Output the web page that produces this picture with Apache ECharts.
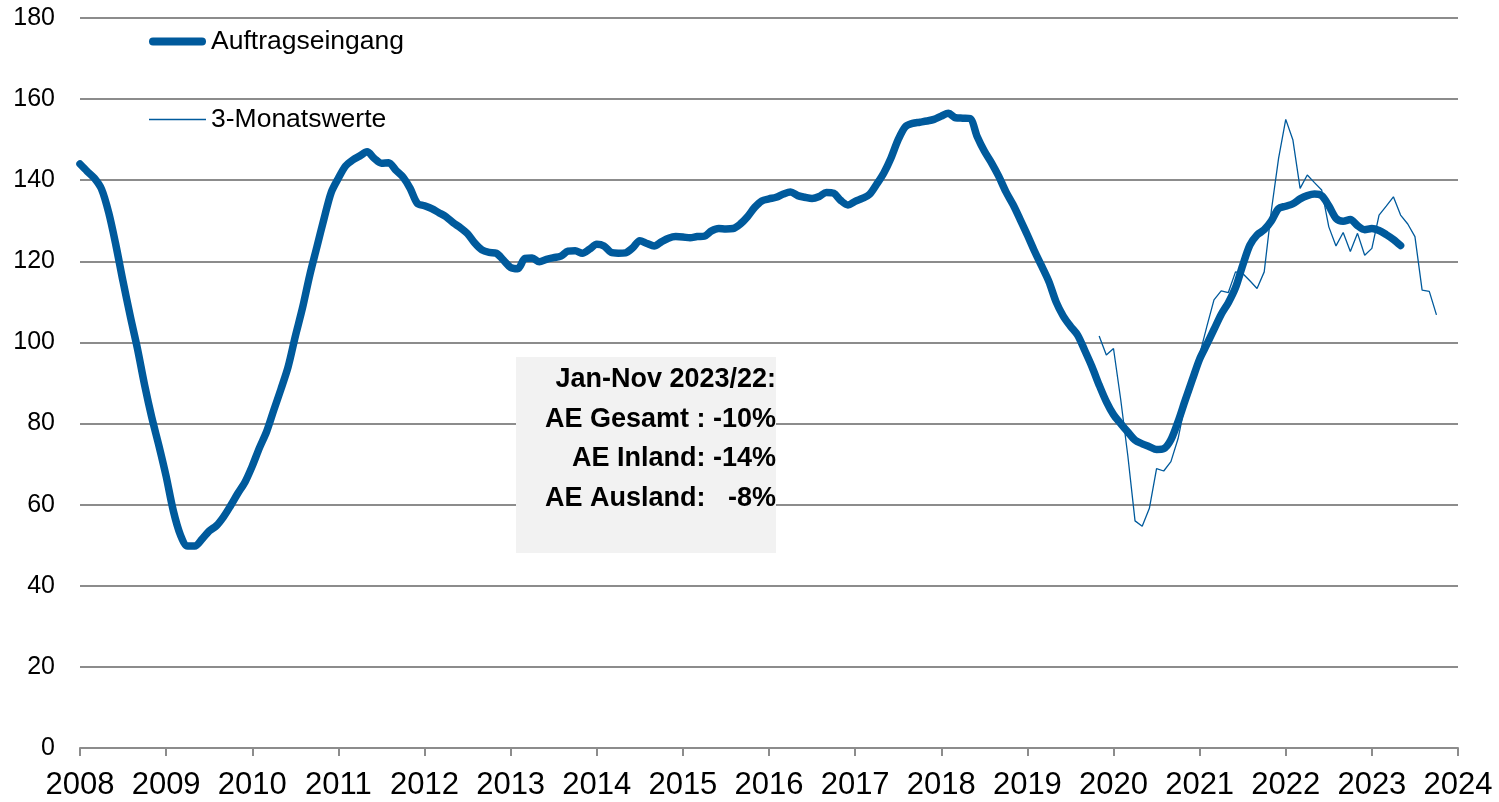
<!DOCTYPE html>
<html>
<head>
<meta charset="utf-8">
<title>Auftragseingang</title>
<script src="https://cdn.jsdelivr.net/npm/echarts@6/dist/echarts.min.js"></script>
<style>
  html, body { margin: 0; padding: 0; background: #fff; }
  #chart { width: 1499px; height: 802px; }
</style>
</head>
<body>
<div id="chart"></div>
<script>
// year ticks on the x axis
const years = [2008, 2009, 2010, 2011, 2012, 2013, 2014, 2015, 2016, 2017, 2018, 2019, 2020, 2021, 2022, 2023, 2024];

// Auftragseingang, monthly from Jan 2008 to May 2023
const auftragseingang = [
  144, 142.2, 140.5, 137.8, 132, 124, 115, 106.5, 98.5, 89.5, 81.5, 74.5,
  67, 58.5, 52.5, 49.8, 49.8, 51.5, 53.5, 54.8, 57, 59.8, 62.8, 65.6,
  69.5, 74, 78, 83.3, 88.5, 94, 101.5, 108.5, 116.5, 123.5, 130.5, 137,
  140.5, 143.5, 145, 146, 147, 145.4, 144.2, 144.3, 142.5, 140.8, 138, 134.3,
  133.7, 133, 132, 131, 129.5, 128.3, 126.8, 124.5, 122.8, 122.2, 122, 120.3,
  118.5, 118.2, 120.7, 120.8, 119.9, 120.5, 120.9, 121.3, 122.5, 122.6, 122, 123,
  124.2, 123.8, 122.2, 122, 122.1, 123.3, 125.1, 124.4, 123.8, 124.8, 125.7, 126.1,
  126, 125.8, 126.1, 126.2, 127.5, 128.1, 128, 128.1, 129.2, 131, 133.3, 134.9,
  135.4, 135.8, 136.6, 137.1, 136.2, 135.8, 135.5, 136, 137, 136.8, 135, 133.9,
  134.8, 135.5, 136.5, 139, 141.8, 145.5, 150, 153.2, 154, 154.3, 154.6, 155,
  155.8, 156.5, 155.4, 155.3, 155.2, 150.8, 147.2, 144.3, 141, 137.2, 134, 130.3,
  126.5, 122.5, 118.8, 115, 110, 106.5, 104, 101.8, 98, 94, 89.5, 85.4,
  82.2, 80, 77.9, 75.9, 75, 74.3, 73.6, 73.8, 76, 80.5, 85.8, 90.9,
  95.9, 99.5, 103.2, 106.9, 109.8, 113.5, 119, 124, 126.5, 127.8, 130, 133,
  133.6, 134.2, 135.4, 136.2, 136.6, 136.2, 133.7, 130.6, 129.9, 130.3, 128.8, 127.8,
  128.1, 127.6, 126.6, 125.4, 123.9
];

// 3-Monatswerte, monthly from Nov 2019 to Oct 2023
const dreiMonatsStart = "2019-11";
const dreiMonatswerte = [
  101.6, 96.9,
  98.5, 86, 72, 56, 54.7, 59.1, 68.9, 68.3, 70.6, 76.3, 85, 91,
  97, 103.9, 110.5, 112.7, 112.3, 117.4, 117, 115.2, 113.3, 117.4, 132.6, 145.4,
  155, 149.9, 138, 141.3, 139.4, 137.6, 128.5, 123.8, 127.1, 122.4, 126.9, 121.5,
  123.2, 131.4, 133.6, 135.9, 131.4, 129.2, 126.1, 112.9, 112.6, 106.8
];

const noteLines = [
  "Jan-Nov 2023/22:",
  "AE Gesamt : -10%",
  "AE Inland: -14%",
  "AE Ausland:   -8%"
];

const FONT = "'Liberation Sans', Arial, sans-serif";
const BLUE = "#005a9c";
const GRID_GRAY = "#8c8c8c";

// monthly categories from Jan of the first year to Jan of the last
const months = [];
years.forEach((y, i) => {
  const last = i === years.length - 1;
  for (let m = 1; m <= (last ? 1 : 12); m++) {
    months.push(y + "-" + String(m).padStart(2, "0"));
  }
});
const isJan = (idx) => months[idx].endsWith("-01");

const startIdx = months.indexOf(dreiMonatsStart);
const dreiSeries = new Array(startIdx).fill(null).concat(dreiMonatswerte);

const chart = echarts.init(document.getElementById("chart"));

chart.setOption({
  animation: false,
  backgroundColor: "#fff",
  textStyle: { fontFamily: FONT },
  grid: { left: 80, right: 41, top: 18, bottom: 54, containLabel: false },
  legend: {
    orient: "vertical",
    left: 144,
    top: 23,
    itemWidth: 57,
    itemHeight: 24,
    itemGap: 51,
    textStyle: { fontSize: 26.5, color: "#000", fontFamily: FONT },
    data: [
      {
        name: "Auftragseingang",
        icon: "path://M4,0H53A4,4 0 0 1 53,8H4A4,4 0 0 1 4,0Z"
      },
      {
        name: "3-Monatswerte",
        icon: "path://M3,0H57V1.4H3Z"
      }
    ]
  },
  xAxis: {
    type: "category",
    data: months,
    boundaryGap: false,
    axisLine: { show: true, lineStyle: { color: GRID_GRAY, width: 2 } },
    axisTick: {
      show: true,
      length: 8,
      interval: (idx) => isJan(idx),
      lineStyle: { color: GRID_GRAY, width: 2 }
    },
    axisLabel: {
      interval: (idx) => isJan(idx),
      formatter: (v) => v.slice(0, 4),
      fontSize: 31,
      color: "#000",
      margin: 22,
      fontFamily: FONT
    },
    splitLine: { show: false }
  },
  yAxis: {
    type: "value",
    min: 0,
    max: 180,
    interval: 20,
    axisLine: { show: false },
    axisTick: { show: false },
    axisLabel: { fontSize: 25, color: "#000", margin: 25, fontFamily: FONT },
    splitLine: { lineStyle: { color: GRID_GRAY, width: 2 } }
  },
  series: [
    {
      name: "Auftragseingang",
      type: "line",
      data: auftragseingang,
      smooth: 0.3,
      symbol: "none",
      z: 3,
      lineStyle: { width: 7.5, color: BLUE, cap: "round", join: "round" },
      itemStyle: { color: BLUE }
    },
    {
      name: "3-Monatswerte",
      type: "line",
      data: dreiSeries,
      symbol: "none",
      z: 2,
      lineStyle: { width: 1.3, color: BLUE },
      itemStyle: { color: BLUE }
    }
  ],
  graphic: [
    {
      type: "rect",
      z: 100,
      shape: { x: 516, y: 357, width: 260, height: 196 },
      style: { fill: "#f2f2f2" }
    }
  ].concat(noteLines.map((t, i) => ({
    type: "text",
    z: 101,
    x: 776,
    y: 380 + i * 39.5,
    style: {
      text: t,
      align: "right",
      verticalAlign: "middle",
      fontSize: 27,
      fontWeight: "bold",
      fontFamily: FONT,
      fill: "#000"
    }
  })))
});

window.addEventListener("resize", chart.resize);
</script>
</body>
</html>
